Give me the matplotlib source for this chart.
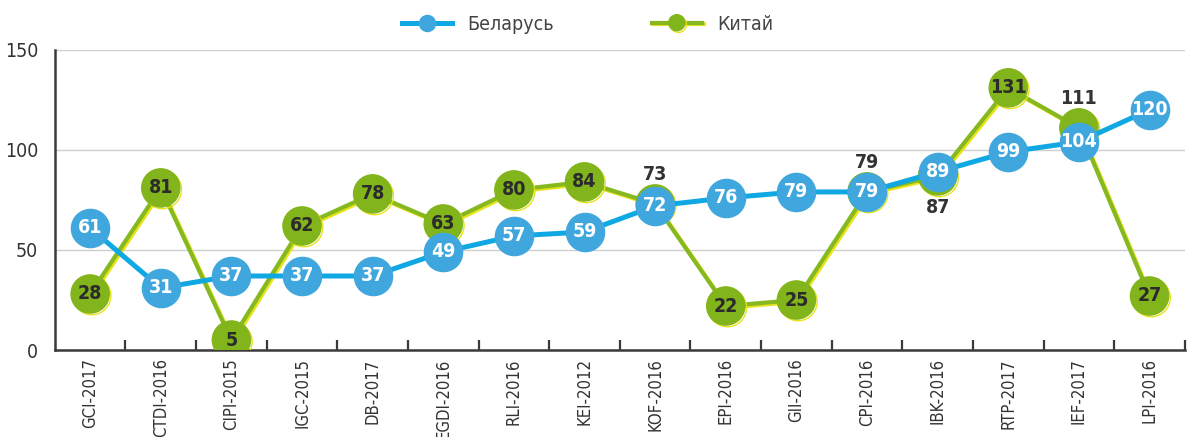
import matplotlib.pyplot as plt
import matplotlib.patheffects as pe

categories = ["GCI-2017", "CTDI-2016", "CIPI-2015", "IGC-2015", "DB-2017", "EGDI-2016",
              "RLI-2016", "KEI-2012", "KOF-2016", "EPI-2016", "GII-2016", "CPI-2016",
              "IBK-2016", "RTP-2017", "IEF-2017", "LPI-2016"]
belarus = [61, 31, 37, 37, 37, 49, 57, 59, 72, 76, 79, 79, 89, 99, 104, 120]
china = [28, 81, 5, 62, 78, 63, 80, 84, 73, 22, 25, 79, 87, 131, 111, 27]
y_ticks = [0, 50, 100, 150]

# china labels that sit outside the marker (hidden behind blue): index -> offset in points
OUTSIDE = {8: 21, 11: 21, 12: -23, 14: 21}

BLUE_LINE = "#10a8e3"
BLUE = "#3fa7dd"
GREEN_LINE = "#86b820"
GREEN = "#82b41c"

plt.rcParams["font.family"] = ["DejaVu Sans"]
plt.rcParams["font.stretch"] = "condensed"

fig = plt.figure(figsize=(11.92, 4.37), dpi=100)
ax = fig.add_axes([0.046, 0.199, 0.948, 0.687])

x = list(range(len(categories)))
shadow = [pe.SimpleLineShadow(offset=(1.2, -1.2), shadow_color="#e8e21a", alpha=1), pe.Normal()]

ax.plot(x, china, color=GREEN_LINE, linewidth=3.0, marker="o", markersize=27.5,
        markerfacecolor=GREEN, markeredgecolor=GREEN, zorder=3, path_effects=shadow,
        label="Китай")
ax.plot(x, belarus, color=BLUE_LINE, linewidth=3.6, marker="o", markersize=27.5,
        markerfacecolor=BLUE, markeredgecolor=BLUE, zorder=4, label="Беларусь")

for i, v in enumerate(china):
    if i in OUTSIDE:
        ax.annotate(str(v), (i, v), textcoords="offset points", xytext=(0, OUTSIDE[i]),
                    ha="center", va="center", fontsize=14, fontweight="bold",
                    color="#333333", zorder=6)
    else:
        ax.text(i, v, str(v), ha="center", va="center", fontsize=14, fontweight="bold",
                color="#2b2b2b", zorder=5)
for i, v in enumerate(belarus):
    ax.text(i, v, str(v), ha="center", va="center", fontsize=14, fontweight="bold",
            color="white", zorder=6)

ax.set_xlim(-0.5, len(categories) - 0.5)
ax.set_ylim(0, 150)
ax.set_yticks(y_ticks)
ax.set_yticklabels([str(t) for t in y_ticks], fontsize=14, color="#333333")
ax.tick_params(axis="y", length=0, pad=12)
ax.set_xticks(x)
ax.set_xticklabels(categories, rotation=90, fontsize=12, color="#333333")
ax.tick_params(axis="x", length=0, pad=6)
ax.set_xticks([i + 0.5 for i in x], minor=True)
ax.tick_params(axis="x", which="minor", direction="in", length=7, width=1.6, color="#3a3a3a")

ax.grid(axis="y", color="#cfcfcf", linewidth=1)
ax.set_axisbelow(True)
for spine in ["top", "right"]:
    ax.spines[spine].set_visible(False)
for spine in ["left", "bottom"]:
    ax.spines[spine].set_color("#3a3a3a")
    ax.spines[spine].set_linewidth(1.8)

handles, labels = ax.get_legend_handles_labels()
leg = fig.legend(handles[::-1], labels[::-1], loc="center", bbox_to_anchor=(0.493, 0.945),
                 ncol=2, frameon=False, markerscale=0.42, handlelength=2.6,
                 columnspacing=5, prop={"family": "DejaVu Sans", "size": 14})
for t in leg.get_texts():
    t.set_color("#444444")

fig.savefig("out.png", dpi=100)
